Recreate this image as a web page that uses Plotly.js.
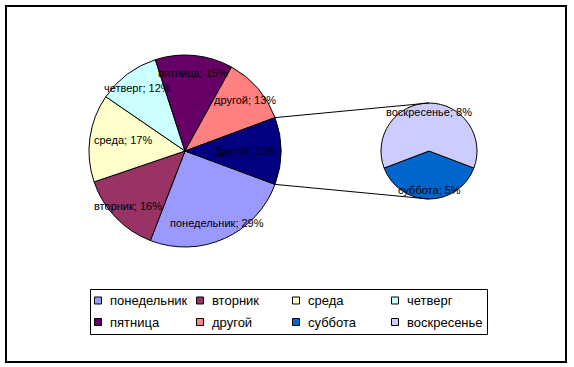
<!DOCTYPE html>
<html><head><meta charset="utf-8">
<script src="https://cdn.plot.ly/plotly-3.0.1.min.js"></script>
<style>html,body{margin:0;padding:0;background:#fff}#chart{width:574px;height:367px}</style>
</head><body><div id="chart"></div>
<script>
// ---- data ----
const mainLabels = ['понедельник','вторник','среда','четверг','пятница','другой'];
const mainValues = [29,16,17,12,15,13];
const mainColors = ['#9999FF','#993366','#FFFFCC','#CCFFFF','#660066','#FF8080'];
const otherLabel = 'Другой';
const otherColor = '#000080';
const subLabels = ['суббота','воскресенье'];
const subValues = [5,8];
const subColors = ['#0066CC','#CCCCFF'];
const legendLabels = mainLabels.concat(subLabels);
const legendColors = mainColors.concat(subColors);

// ---- layout geometry (pixels) ----
const W = 574, H = 367;
const mainBox = {cx:185, cy:151, r:96};
const subBox  = {cx:429, cy:151, r:48};
const labelFrac = 0.82;
const FONT = 'Liberation Sans, Arial, sans-serif';
const LABEL_SIZE = 11, LEGEND_SIZE = 13;
const legendBox = {x0:90, y0:289, x1:487, y1:334};
const legendCols = [94, 196, 292, 391];
const legendRows = [300.5, 322];
const swatch = 8, swatchGap = 6;

const ctx = document.createElement('canvas').getContext('2d');
ctx.font = LABEL_SIZE + 'px "Liberation Sans"';
const px2x = v => v / W, px2y = v => 1 - v / H;

function domainOf(b){
  return {x:[(b.cx-b.r)/W,(b.cx+b.r)/W], y:[(H-b.cy-b.r)/H,(H-b.cy+b.r)/H]};
}
const otherValue = subValues.reduce((a,b)=>a+b,0);
const pieLabels = mainLabels.concat([otherLabel]);
const pieValues = mainValues.concat([otherValue]);
const pieColors = mainColors.concat([otherColor]);
const mainTotal = pieValues.reduce((a,b)=>a+b,0);
const mainRot = 90 + otherValue/mainTotal*180;
const subRot = 180 - subValues[0]/otherValue*180;

function ptPx(b, deg, f){
  const a = deg*Math.PI/180;
  return [b.cx + f*b.r*Math.sin(a), b.cy - f*b.r*Math.cos(a)];
}
function sliceAnnotations(b, labels, values, rot){
  const tot = values.reduce((a,c)=>a+c,0);
  let start = rot; const out = [];
  labels.forEach((lab,i)=>{
    const span = values[i]/tot*360;
    const mid = start + span/2;
    const text = lab + '; ' + values[i] + '%';
    let [x, y] = ptPx(b, mid, labelFrac);
    // keep near-horizontal labels inside the circle (best-fit)
    if (Math.abs(Math.sin(mid*Math.PI/180)) > 0.95) {
      const hw = ctx.measureText(text).width/2;
      const lim = Math.sqrt(Math.max(0, b.r*b.r - (y-b.cy)*(y-b.cy))) - 4;
      if (x + hw > b.cx + lim) x = b.cx + lim - hw;
      if (x - hw < b.cx - lim) x = b.cx - lim + hw;
    }
    out.push({x:px2x(x), y:px2y(y), xref:'paper', yref:'paper', showarrow:false,
      text:text, font:{family:FONT, size:LABEL_SIZE, color:'#000'},
      xanchor:'center', yanchor:'middle'});
    start += span;
  });
  return out;
}

const traces = [
  {type:'pie', labels:pieLabels, values:pieValues, sort:false, direction:'clockwise',
   rotation:mainRot, domain:domainOf(mainBox), textposition:'none', showlegend:false,
   marker:{colors:pieColors, line:{color:'#000', width:1}}, hoverinfo:'label+value'},
  {type:'pie', labels:subLabels, values:subValues, sort:false, direction:'clockwise',
   rotation:subRot, domain:domainOf(subBox), textposition:'none', showlegend:false,
   marker:{colors:subColors, line:{color:'#000', width:1}}, hoverinfo:'label+value'}
];

// connector lines: edges of the "other" slice to top / bottom of the secondary pie
const c0 = ptPx(mainBox, mainRot - otherValue/mainTotal*360, 1);
const c1 = ptPx(subBox, 0, 1);
const d0 = ptPx(mainBox, mainRot, 1);
const d1 = ptPx(subBox, 180, 1);

const shapes = [
  {type:'line', xref:'paper', yref:'paper', x0:px2x(c0[0]), y0:px2y(c0[1]), x1:px2x(c1[0]), y1:px2y(c1[1]), line:{color:'#000', width:1}},
  {type:'line', xref:'paper', yref:'paper', x0:px2x(d0[0]), y0:px2y(d0[1]), x1:px2x(d1[0]), y1:px2y(d1[1]), line:{color:'#000', width:1}},
  {type:'rect', xref:'paper', yref:'paper', x0:px2x(6), y0:px2y(6), x1:px2x(566), y1:px2y(362), line:{color:'#000', width:2}},
  {type:'rect', xref:'paper', yref:'paper', x0:px2x(legendBox.x0+0.5), y0:px2y(legendBox.y0+0.5), x1:px2x(legendBox.x1+0.5), y1:px2y(legendBox.y1+0.5), line:{color:'#000', width:1}, fillcolor:'#fff'}
];
const legendAnn = [];
legendLabels.forEach((lab,i)=>{
  const col = i % legendCols.length, row = Math.floor(i / legendCols.length);
  const sx = legendCols[col], sy = legendRows[row];
  shapes.push({type:'rect', xref:'paper', yref:'paper',
    x0:px2x(sx+0.5), x1:px2x(sx+swatch-0.5), y0:px2y(sy-swatch/2+0.5), y1:px2y(sy+swatch/2-0.5),
    fillcolor:legendColors[i], line:{color:'#000', width:1}});
  legendAnn.push({x:px2x(sx+swatch+swatchGap), y:px2y(sy), xref:'paper', yref:'paper', showarrow:false,
    text:lab, xanchor:'left', yanchor:'middle', font:{family:FONT, size:LEGEND_SIZE, color:'#000'}});
});

const layout = {
  width:W, height:H, margin:{l:0,r:0,t:0,b:0},
  paper_bgcolor:'#fff', plot_bgcolor:'rgba(0,0,0,0)',
  font:{family:FONT, size:LABEL_SIZE, color:'#000'},
  showlegend:false,
  annotations: sliceAnnotations(mainBox, pieLabels, pieValues, mainRot)
      .concat(sliceAnnotations(subBox, subLabels, subValues, subRot))
      .concat(legendAnn),
  shapes: shapes
};
Plotly.newPlot('chart', traces, layout, {staticPlot:true});
</script></body></html>
